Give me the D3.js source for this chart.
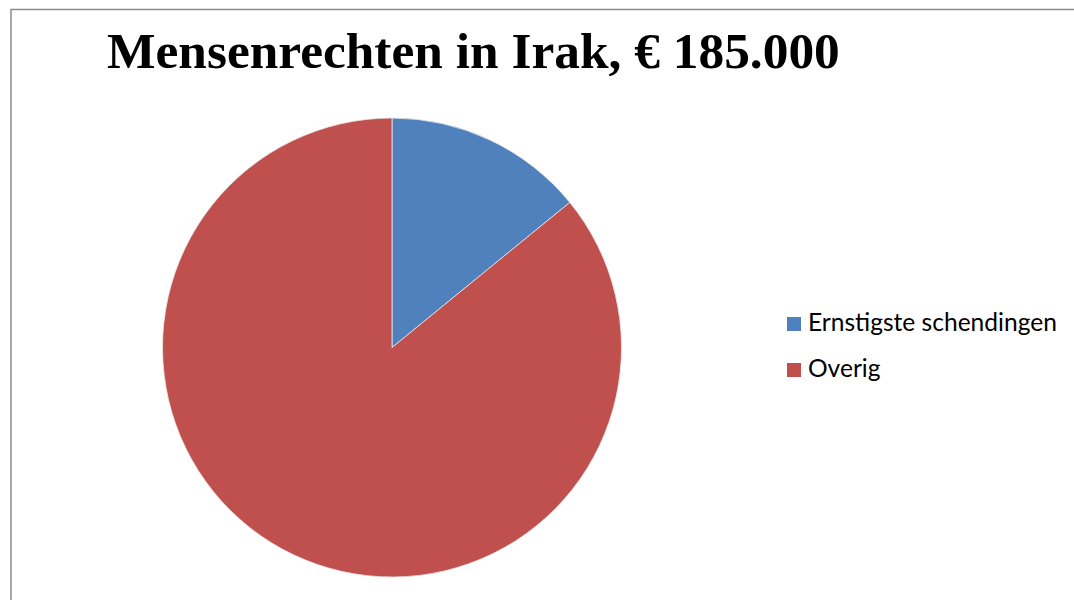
<!DOCTYPE html>
<html>
<head>
<meta charset="utf-8">
<script src="https://cdn.jsdelivr.net/npm/d3@7"></script>
<style>
  body { margin: 0; background: #fff; }
</style>
</head>
<body>
<svg id="viz"></svg>
<script>
const width = 1074, height = 600;

// data
const title = "Mensenrechten in Irak, € 185.000";
const categories = ["Ernstigste schendingen", "Overig"];
const values = [26100, 158900];
const colors = ["#4F81BD", "#C0504D"];

const svg = d3.select("#viz")
  .attr("width", width)
  .attr("height", height);

svg.append("rect")
  .attr("width", width).attr("height", height)
  .attr("fill", "#fff");

// chart frame (runs off the right and bottom of the picture)
svg.append("rect")
  .attr("x", 11).attr("y", 9.5)
  .attr("width", width + 20).attr("height", height + 20)
  .attr("fill", "none")
  .attr("stroke", "#8c8c8c")
  .attr("stroke-width", 1.5);

// title, sized to the width it takes in the original
const t = svg.append("text")
  .attr("x", 107).attr("y", 68)
  .attr("font-family", "'Liberation Serif', 'DejaVu Serif', serif")
  .attr("font-weight", "bold")
  .attr("font-size", 48)
  .attr("fill", "#000")
  .text(title);
const tw = t.node().getComputedTextLength();
t.attr("font-size", 48 * 733 / tw);

const cx = 392, cy = 347.5, r = 229.5;

const pie = d3.pie().sort(null).value(d => d);
const arc = d3.arc().innerRadius(0).outerRadius(r);

svg.append("g")
  .attr("transform", `translate(${cx},${cy})`)
  .selectAll("path")
  .data(pie(values))
  .join("path")
    .attr("d", arc)
    .attr("fill", (d, i) => colors[i])
    .attr("stroke", "#e8e8e8")
    .attr("stroke-width", 0.8);

// legend
const legend = svg.append("g");
const item = legend.selectAll("g")
  .data(categories)
  .join("g")
    .attr("transform", (d, i) => `translate(787,${317 + i * 46})`);

item.append("rect")
  .attr("width", 14).attr("height", 14)
  .attr("fill", (d, i) => colors[i]);

const lt = item.append("text")
  .attr("x", 21).attr("y", 14)
  .attr("font-family", "Lato, 'Open Sans', sans-serif")
  .attr("font-size", 21)
  .attr("fill", "#000")
  .text(d => d);
const lw = lt.node().getComputedTextLength();
lt.attr("font-size", 21 * 249 / lw);
</script>
</body>
</html>
